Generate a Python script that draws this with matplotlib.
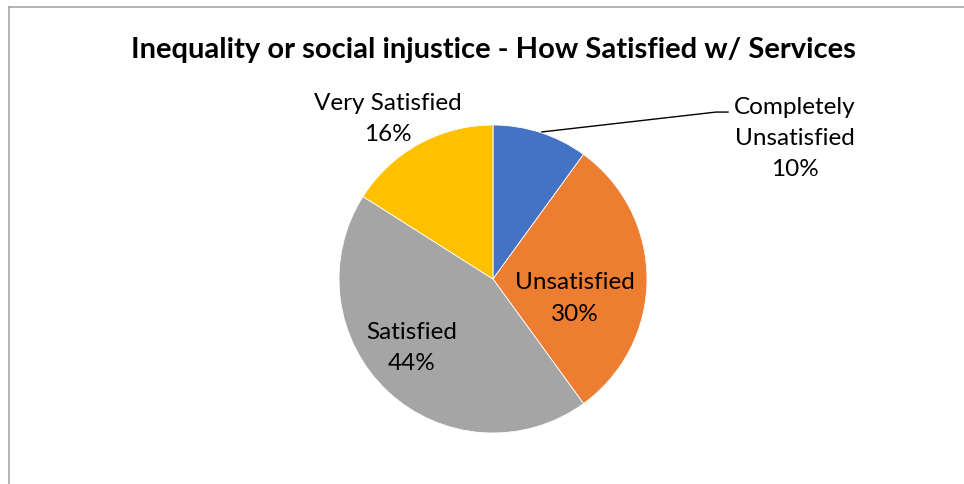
import matplotlib.pyplot as plt
from matplotlib.lines import Line2D

labels = ['Completely\nUnsatisfied', 'Unsatisfied', 'Satisfied', 'Very Satisfied']
shares = [10, 30, 44, 16]
colors = ['#4472C4', '#ED7D31', '#A5A5A5', '#FFC000']

plt.rcParams['font.family'] = ['Lato', 'DejaVu Sans']

fig = plt.figure(figsize=(9.64, 4.85), dpi=100)

# chart frame, cut off on the right and bottom
fig.add_artist(Line2D([8.5 / 964, 8.5 / 964], [0, 1 - 7.5 / 485], color='#A6A6A6', lw=1.2))
fig.add_artist(Line2D([8.5 / 964, 1], [1 - 7.5 / 485, 1 - 7.5 / 485], color='#A6A6A6', lw=1.2))

fig.text(493 / 964, 1 - 50 / 485, 'Inequality or social injustice - How Satisfied w/ Services',
         ha='center', va='center', fontsize=21, fontweight='bold', color='black')

ax = fig.add_axes([339 / 964, 51 / 485, 308 / 964, 308 / 485])
ax.pie(shares, colors=colors, startangle=90, counterclock=False,
       wedgeprops=dict(edgecolor='white', linewidth=0.6))
ax.set_xlim(-1, 1)
ax.set_ylim(-1, 1)
ax.set_aspect('equal')
ax.axis('off')

txt = dict(ha='center', va='center', fontsize=17.5, linespacing=1.6, clip_on=False)
ax.text(1.96, 0.92, f'{labels[0]}\n{shares[0]}%', **txt)
ax.text(0.53, -0.12, f'{labels[1]}\n{shares[1]}%', **txt)
ax.text(-0.53, -0.44, f'{labels[2]}\n{shares[2]}%', **txt)
ax.text(-0.68, 1.045, f'{labels[3]}\n{shares[3]}%', **txt)

# leader line for the small slice
ax.plot([0.318, 1.448, 1.526], [0.955, 1.084, 1.084], color='black', lw=1, clip_on=False)

fig.savefig('out.png', dpi=100)
